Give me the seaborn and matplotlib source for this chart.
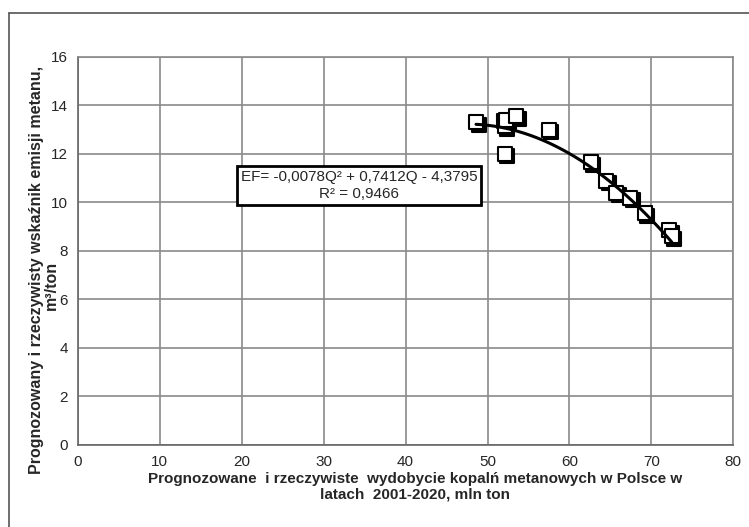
import numpy as np
import pandas as pd
import seaborn as sns
import matplotlib.pyplot as plt
import matplotlib.transforms as mtransforms
from matplotlib.lines import Line2D

# wydobycie (mln ton) i wskaznik emisji (m3/ton)
wydobycie = [48.6, 52.0, 52.1, 52.3, 53.5, 57.5, 52.1, 62.6, 64.5, 65.7, 67.4, 69.2, 72.2, 72.5]
emisja = [13.3, 13.35, 13.15, 13.4, 13.55, 13.0, 12.0, 11.65, 10.9, 10.4, 10.2, 9.55, 8.85, 8.6]

# linia trendu z rownania na wykresie
wspolczynniki = [-0.0078, 0.7412, -4.3795]

x_ticks = list(range(0, 81, 10))
y_ticks = list(range(0, 17, 2))

df = pd.DataFrame({"Q": wydobycie, "EF": emisja})
q = np.linspace(min(wydobycie), max(wydobycie), 100)
trend = pd.DataFrame({"Q": q, "EF": np.polyval(wspolczynniki, q)})

sns.set_style("white")
plt.rcParams['font.family'] = ['Liberation Sans', 'DejaVu Sans']

fig = plt.figure(figsize=(7.49, 5.27), dpi=100)
ax = fig.add_axes([0.104, 0.156, 0.875, 0.736])

# ramka wokol calego wykresu
fig.add_artist(Line2D([9/749, 9/749], [0, 1 - 13/527], color="#555555", lw=1.2))
fig.add_artist(Line2D([9/749, 1], [1 - 13/527, 1 - 13/527], color="#555555", lw=1.2))

# cien pod punktami
shadow = mtransforms.offset_copy(ax.transData, fig=fig, x=2.5, y=-2.5, units='dots')
sns.scatterplot(data=df, x="Q", y="EF", marker="s", s=110, color="black",
                edgecolor="black", linewidth=1.5, transform=shadow, ax=ax, zorder=3)
sns.scatterplot(data=df, x="Q", y="EF", marker="s", s=110, color="white",
                edgecolor="black", linewidth=1.5, ax=ax, zorder=4)
sns.lineplot(data=trend, x="Q", y="EF", color="black", lw=2.2, ax=ax, zorder=5)

ax.set_xlim(0, 80)
ax.set_ylim(0, 16)
ax.set_xticks(x_ticks)
ax.set_yticks(y_ticks)
ax.grid(True, color="#8a8a8a", lw=1.2)
ax.set_axisbelow(True)
for s in ax.spines.values():
    s.set_color("#8a8a8a")
    s.set_linewidth(1.2)
ax.spines["left"].set_color("#666666")
ax.spines["bottom"].set_color("#666666")
ax.tick_params(axis="both", direction="out", length=4, width=1, color="#666666",
               labelsize=11, pad=3)

ax.set_xlabel("Prognozowane  i rzeczywiste  wydobycie kopalń metanowych w Polsce w\nlatach  2001-2020, mln ton",
              fontsize=11, fontweight="bold", linespacing=1.15)
ax.xaxis.set_label_coords(0.515, -0.07)
ax.xaxis.label.set_va("top")

# tytul osi y w dwoch liniach; druga linia nachodzi na opisy osi jak w oryginale
ax.set_ylabel("Prognozowany i rzeczywisty wskaźnik emisji metanu,",
              fontsize=11.5, fontweight="bold")
ax.yaxis.set_label_coords(-0.052, 0.45)
ax.text(-0.04, 0.41, "m³/ton", transform=ax.transAxes, rotation=90,
        ha="center", va="center", fontsize=11.5, fontweight="bold")

ax.text(34.3, 10.7, "EF= -0,0078Q² + 0,7412Q - 4,3795\nR² = 0,9466",
        ha="center", va="center", fontsize=11, linespacing=1.25, zorder=6,
        bbox=dict(boxstyle="square,pad=0.25", facecolor="white", edgecolor="black", lw=2))

fig.savefig("out.png", dpi=100)
